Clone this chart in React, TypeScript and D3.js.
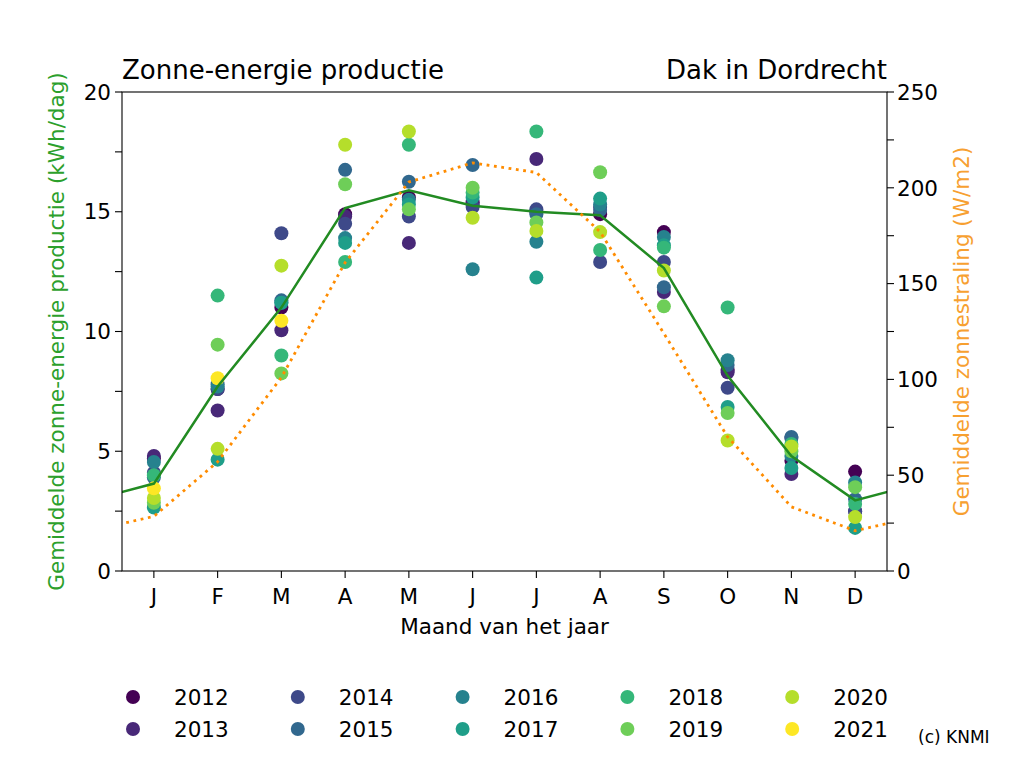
import React from "react";
import * as d3 from "d3";

const months = ["J", "F", "M", "A", "M", "J", "J", "A", "S", "O", "N", "D"];
const years = [2012, 2013, 2014, 2015, 2016, 2017, 2018, 2019, 2020, 2021];

// kWh/dag per maand, per jaar
const prod2012 = [4.7, 7.6, 11.0, 14.9, 15.6, 15.4, 15.0, 14.9, 14.15, 8.4, 4.6, 4.15];
const prod2013 = [4.8, 6.7, 10.05, 14.8, 13.7, 15.3, 17.2, 15.2, 11.65, 8.3, 4.05, 2.5];
const prod2014 = [4.1, 7.6, 14.1, 14.5, 14.8, 15.2, 15.1, 12.9, 12.9, 7.65, 5.55, 2.5];
const prod2015 = [3.9, 7.8, 11.3, 16.75, 16.25, 16.95, 14.9, 15.07, 11.85, 8.6, 5.6, 3.0];
const prod2016 = [4.55, 7.7, 11.2, 13.9, 15.5, 12.6, 13.75, 15.3, 13.95, 8.8, 4.8, 3.7];
const prod2017 = [2.65, 4.65, 11.2, 13.7, 15.3, 15.6, 12.25, 15.55, 13.6, 6.85, 4.3, 1.8];
const prod2018 = [4.0, 11.5, 9.0, 12.9, 17.8, 15.8, 18.35, 13.4, 13.5, 11.0, 5.3, 2.8];
const prod2019 = [2.85, 9.45, 8.25, 16.15, 15.1, 16.0, 14.55, 16.65, 11.05, 6.6, 5.0, 3.5];
const prod2020 = [3.05, 5.1, 12.75, 17.8, 18.35, 14.75, 14.2, 14.15, 12.55, 5.45, 5.2, 2.25];
const prod2021 = [3.45, 8.05, 10.45, null, null, null, null, null, null, null, null, null];

const production = [prod2012, prod2013, prod2014, prod2015, prod2016, prod2017, prod2018, prod2019, prod2020, prod2021];

const meanProduction = [3.65, 7.7, 11.0, 15.15, 15.9, 15.25, 15.0, 14.85, 12.65, 8.15, 4.8, 2.95];
const meanRadiation = [28.5, 57, 101, 161, 203, 213, 208, 177, 124, 70, 33.5, 21];

const leftTicks = [0, 5, 10, 15, 20];
const rightTicks = [0, 50, 100, 150, 200, 250];

const W = 1013;
const H = 760;
const m = { left: 122, right: 887, top: 92, bottom: 571 };
const font = "DejaVu Sans, sans-serif";
const green = "#228b22";
const orange = "#ff8c00";
const fs = 21.5;

export default function App() {
  const x = d3.scaleLinear().domain([0.5, 12.5]).range([m.left, m.right]);
  const yL = d3.scaleLinear().domain([0, 20]).range([m.bottom, m.top]);
  const yR = d3.scaleLinear().domain([0, 250]).range([m.bottom, m.top]);
  const color = (i: number) => d3.interpolateViridis(i / (years.length - 1));

  // december en januari om de randen heen laten doorlopen
  const wrap = (arr: number[]) => [arr[11], ...arr, arr[0]].map((v, i) => [i, v] as [number, number]);
  const lineL = d3.line<[number, number]>().x((d) => x(d[0])).y((d) => yL(d[1]));
  const lineR = d3.line<[number, number]>().x((d) => x(d[0])).y((d) => yR(d[1]));

  const minorL = d3.range(0, 20.01, 2.5);
  const minorR = d3.range(0, 250.01, 25);

  return (
    <svg width={W} height={H} style={{ position: "absolute", left: 0, top: 0 }} fontFamily={font}>
      <rect width={W} height={H} fill="white" />
      <defs>
        <clipPath id="plot">
          <rect x={m.left} y={m.top} width={m.right - m.left} height={m.bottom - m.top} />
        </clipPath>
      </defs>

      {/* scatter per jaar */}
      {production.map((vals, i) =>
        vals.map((v, j) =>
          v == null ? null : (
            <circle key={`${i}-${j}`} cx={x(j + 1)} cy={yL(v)} r={7} fill={color(i)} />
          )
        )
      )}

      <g clipPath="url(#plot)">
        <path d={lineL(wrap(meanProduction)) ?? ""} fill="none" stroke={green} strokeWidth={2.5} />
        <path
          d={lineR(wrap(meanRadiation)) ?? ""}
          fill="none"
          stroke={orange}
          strokeWidth={2.8}
          strokeDasharray="2.8 4.6"
        />
      </g>

      <rect x={m.left} y={m.top} width={m.right - m.left} height={m.bottom - m.top} fill="none" stroke="black" strokeWidth={1.1} />

      {/* linker as */}
      {minorL.map((t) => (
        <line key={`l${t}`} x1={m.left - 7} x2={m.left} y1={yL(t)} y2={yL(t)} stroke="black" strokeWidth={1.1} />
      ))}
      {leftTicks.map((t) => (
        <text key={`lt${t}`} x={m.left - 11} y={yL(t)} dy="0.36em" textAnchor="end" fontSize={fs}>
          {t}
        </text>
      ))}

      {/* rechter as */}
      {minorR.map((t) => (
        <line key={`r${t}`} x1={m.right} x2={m.right + 7} y1={yR(t)} y2={yR(t)} stroke="black" strokeWidth={1.1} />
      ))}
      {rightTicks.map((t) => (
        <text key={`rt${t}`} x={m.right + 10} y={yR(t)} dy="0.36em" textAnchor="start" fontSize={fs}>
          {t}
        </text>
      ))}

      {/* x as */}
      {months.map((mo, i) => (
        <g key={`x${i}`}>
          <line x1={x(i + 1)} x2={x(i + 1)} y1={m.bottom} y2={m.bottom + 7} stroke="black" strokeWidth={1.1} />
          <text x={x(i + 1)} y={m.bottom + 25} dy="0.36em" textAnchor="middle" fontSize={fs}>
            {mo}
          </text>
        </g>
      ))}
      <text x={(m.left + m.right) / 2} y={634} textAnchor="middle" fontSize={fs}>
        Maand van het jaar
      </text>

      <text
        transform={`translate(64,${(m.top + m.bottom) / 2}) rotate(-90)`}
        textAnchor="middle"
        fontSize={fs}
        fill="#2ca02c"
      >
        Gemiddelde zonne-energie productie (kWh/dag)
      </text>
      <text
        transform={`translate(969,${(m.top + m.bottom) / 2}) rotate(-90)`}
        textAnchor="middle"
        fontSize={fs}
        fill="#f7a030"
      >
        Gemiddelde zonnestraling (W/m2)
      </text>

      <text x={m.left} y={79} fontSize={26}>
        Zonne-energie productie
      </text>
      <text x={m.right} y={79} textAnchor="end" fontSize={26}>
        Dak in Dordrecht
      </text>

      {/* legenda */}
      {years.map((yr, i) => {
        const col = Math.floor(i / 2);
        const row = i % 2;
        const cx = 133 + col * 164.8;
        const cy = 697 + row * 32;
        return (
          <g key={`lg${yr}`}>
            <circle cx={cx} cy={cy} r={7} fill={color(i)} />
            <text x={cx + 41} y={cy} dy="0.36em" fontSize={fs}>
              {yr}
            </text>
          </g>
        );
      })}
      <text x={918} y={743} fontSize={17}>
        (c) KNMI
      </text>
    </svg>
  );
}
